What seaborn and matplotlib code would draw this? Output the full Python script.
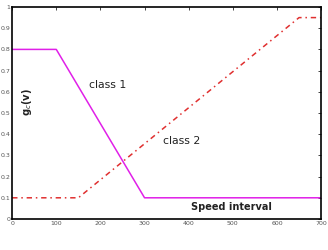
import matplotlib
matplotlib.use("Agg")
import matplotlib.pyplot as plt
import seaborn as sns
import pandas as pd

sns.set_style("white")
plt.rcParams['font.family'] = ['DejaVu Sans']

speed1 = [0, 100, 300, 700]
class1 = [0.8, 0.8, 0.1, 0.1]
speed2 = [0, 150, 650, 700]
class2 = [0.1, 0.1, 0.95, 0.95]
xticks = [0, 100, 200, 300, 400, 500, 600, 700]
yticks = [0, 0.1, 0.2, 0.3, 0.4, 0.5, 0.6, 0.7, 0.8, 0.9, 1]

fig = plt.figure(figsize=(3.28, 2.5), dpi=100)
ax = fig.add_axes([0.037, 0.124, 0.942, 0.848])

df1 = pd.DataFrame({"x": speed1, "y": class1})
df2 = pd.DataFrame({"x": speed2, "y": class2})
sns.lineplot(data=df1, x="x", y="y", ax=ax, color="#e020e8", lw=1.1, sort=False)
sns.lineplot(data=df2, x="x", y="y", ax=ax, color="#e03030", lw=1.1, sort=False,
             linestyle=(0, (3.5, 2.5, 1, 2.5)))

ax.set_xlim(0, 700)
ax.set_ylim(0, 1)
ax.set_xticks(xticks)
ax.set_xticklabels([str(v) for v in xticks])
ax.set_yticks(yticks)
ax.set_yticklabels(["0", "0.1", "0.2", "0.3", "0.4", "0.5", "0.6", "0.7", "0.8", "0.9", "1"])
ax.tick_params(direction="in", length=2.5, width=0.6, labelsize=4.5, pad=1.5,
               top=True, right=True, labelcolor="#555555")
for s in ax.spines.values():
    s.set_linewidth(1.2)
    s.set_color("black")
ax.set_xlabel("")
ax.set_ylabel("")

ax.text(217, 0.63, "class 1", fontsize=7.8, color="#222222", ha="center", va="center")
ax.text(383, 0.37, "class 2", fontsize=7.8, color="#222222", ha="center", va="center")
ax.text(496, 0.055, "Speed interval", fontsize=7, fontweight="bold", color="#222222",
        ha="center", va="center")
ax.text(34, 0.55, r"g$_c$(v)", fontsize=7.2, rotation=90, fontweight="bold",
        color="#222222", ha="center", va="center")

fig.savefig("out.png", dpi=100)
